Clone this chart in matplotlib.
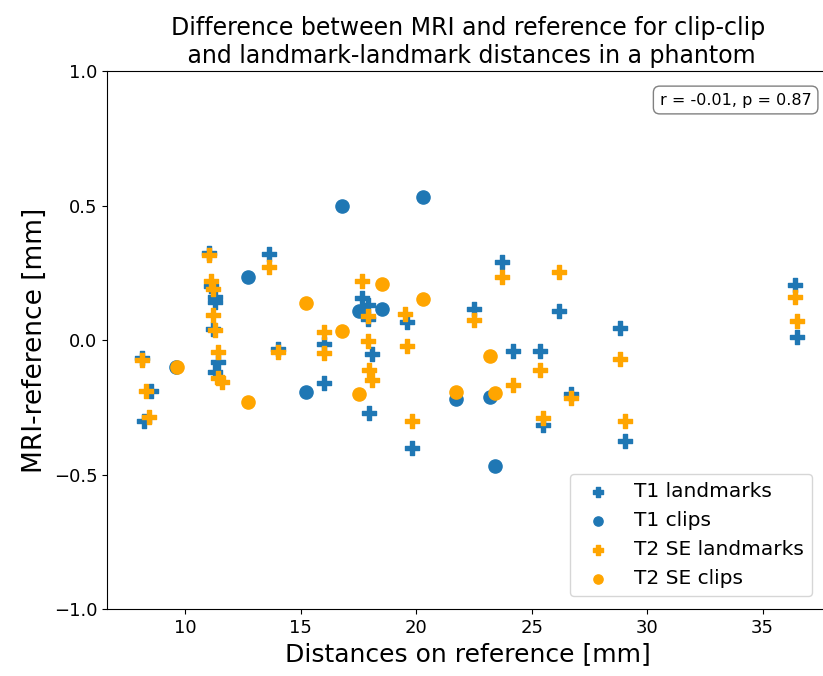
import matplotlib
matplotlib.use('Agg')
import matplotlib.pyplot as plt

# T1 landmarks (blue crosses)
t1_lm_x = [8.1, 8.5, 8.2, 11.0, 11.1, 11.3, 11.3, 11.2, 11.4, 11.3, 13.6, 14.0, 16.0, 16.0,
           17.65, 17.9, 17.9, 18.1, 17.97, 19.6, 19.8, 22.5, 23.7, 24.2, 25.35, 25.5,
           26.2, 26.7, 28.8, 29.05, 36.4, 36.5]
t1_lm_y = [-0.065, -0.19, -0.30, 0.325, 0.20, 0.16, 0.14, 0.04, -0.08, -0.12, 0.32, -0.035, -0.016, -0.16,
           0.156, 0.13, 0.08, -0.053, -0.27, 0.066, -0.40, 0.115, 0.29, -0.04, -0.04, -0.315,
           0.108, -0.20, 0.045, -0.375, 0.204, 0.012]

# T1 clips (blue circles)
t1_clip_x = [9.6, 12.7, 15.2, 16.8, 17.5, 18.5, 20.3, 21.7, 23.2, 23.4]
t1_clip_y = [-0.10, 0.235, -0.194, 0.50, 0.108, 0.115, 0.53, -0.22, -0.21, -0.47]

# T2 SE landmarks (orange crosses)
t2_lm_x = [8.1, 8.3, 8.4, 11.0, 11.1, 11.2, 11.2, 11.3, 11.4, 11.4, 11.6, 13.6, 14.0, 16.0, 16.0,
           17.65, 17.9, 17.9, 17.97, 18.1, 19.5, 19.6, 19.8, 22.5, 23.7, 24.2, 25.35, 25.5,
           26.2, 26.7, 28.8, 29.05, 36.4, 36.5]
t2_lm_y = [-0.074, -0.19, -0.285, 0.316, 0.22, 0.19, 0.093, 0.037, -0.045, -0.14, -0.155, 0.27, -0.045, 0.03, -0.05,
           0.22, 0.09, -0.004, -0.11, -0.15, 0.097, -0.023, -0.30, 0.074, 0.235, -0.167, -0.11, -0.29,
           0.253, -0.216, -0.071, -0.30, 0.16, 0.07]

# T2 SE clips (orange circles)
t2_clip_x = [9.65, 12.7, 15.2, 16.8, 17.5, 18.5, 20.3, 21.7, 23.2, 23.4]
t2_clip_y = [-0.10, -0.23, 0.137, 0.035, -0.20, 0.21, 0.152, -0.193, -0.06, -0.196]

stats_text = 'r = -0.01, p = 0.87'

blue = '#1f77b4'
orange = '#ffa500'

fig = plt.figure(figsize=(8.23, 6.76), dpi=100)
# right edge runs just past the figure, like the reference (no right spine visible)
ax = fig.add_axes([0.130, 0.099, 0.878, 0.796])

ax.scatter(t1_lm_x, t1_lm_y, marker='P', s=90, color=blue, label='T1 landmarks')
ax.scatter(t1_clip_x, t1_clip_y, marker='o', s=90, color=blue, label='T1 clips')
ax.scatter(t2_lm_x, t2_lm_y, marker='P', s=90, color=orange, label='T2 SE landmarks')
ax.scatter(t2_clip_x, t2_clip_y, marker='o', s=90, color=orange, label='T2 SE clips')

ax.set_xlim(6.6, 37.9)
ax.set_ylim(-1.0, 1.0)
ax.set_yticks([-1.0, -0.5, 0.0, 0.5, 1.0])
ax.set_xticks([10, 15, 20, 25, 30, 35])
ax.tick_params(labelsize=13)

ax.set_xlabel('Distances on reference [mm]', fontsize=18)
ax.set_ylabel('MRI-reference [mm]', fontsize=19)
ax.set_title('Difference between MRI and reference for clip-clip\n and landmark-landmark distances in a phantom',
             fontsize=17)

ax.text(0.975, 0.96, stats_text, transform=ax.transAxes, ha='right', va='top', fontsize=11.5,
        bbox=dict(boxstyle='round,pad=0.4', facecolor='white', edgecolor='gray'))

ax.legend(loc='lower right', fontsize=14.5, markerscale=0.7, bbox_to_anchor=(0.99, 0.005))

fig.savefig('out.png', dpi=100)
